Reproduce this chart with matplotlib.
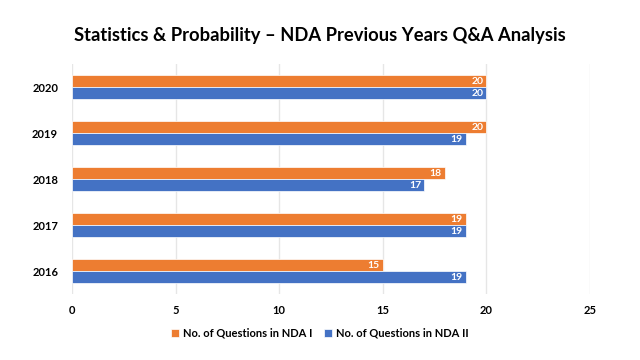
import numpy as np
import matplotlib.pyplot as plt

plt.rcParams['font.family'] = ['Lato', 'DejaVu Sans']

years = ['2016', '2017', '2018', '2019', '2020']
nda1 = [15, 19, 18, 20, 20]
nda2 = [19, 19, 17, 19, 20]

fig = plt.figure(figsize=(6.4, 3.6), dpi=100)
ax = fig.add_axes([0.1125, 0.183, 0.8095, 0.639])

y = np.arange(len(years))
h = 0.26
b1 = ax.barh(y + h / 2, nda1, height=h, color='#ED7D31', edgecolor='white', linewidth=0.5,
             label='No. of Questions in NDA I')
b2 = ax.barh(y - h / 2, nda2, height=h, color='#4472C4', edgecolor='white', linewidth=0.5,
             label='No. of Questions in NDA II')

for bars in (b1, b2):
    for r in bars:
        ax.text(r.get_width() - 0.15, r.get_y() + r.get_height() / 2, str(int(r.get_width())),
                ha='right', va='center', color='white', fontsize=7.5, fontweight='bold')

ax.set_xlim(0, 25)
ax.set_ylim(-0.5, 4.5)
ax.set_xticks(range(0, 26, 5))
ax.set_yticks(y)
ax.set_yticklabels(years)
ax.tick_params(length=0, labelsize=8)
for t in ax.get_xticklabels() + ax.get_yticklabels():
    t.set_fontweight('bold')
ax.tick_params(axis='x', pad=8)
ax.tick_params(axis='y', pad=10)
ax.grid(axis='x', color='#E6E6E6', linewidth=1)
ax.set_axisbelow(True)
for s in ax.spines.values():
    s.set_visible(False)

fig.suptitle('Statistics & Probability – NDA Previous Years Q&A Analysis', y=0.925,
             fontsize=13.2, fontweight='bold')
fig.legend(loc='center', bbox_to_anchor=(0.5, 0.075), ncol=2, frameon=False,
           prop={'size': 8, 'weight': 'bold'}, handlelength=0.7, handleheight=0.7,
           columnspacing=1.0, handletextpad=0.4)

fig.savefig('out.png', dpi=100, facecolor='white')
